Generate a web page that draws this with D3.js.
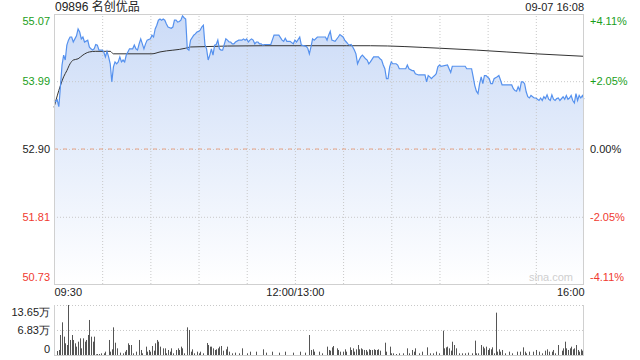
<!DOCTYPE html>
<html>
<head>
<meta charset="utf-8">
<script src="https://d3js.org/d3.v7.min.js"></script>
<style>
  body { margin: 0; background: #fff; }
  svg { font-family: "Liberation Sans", Arial, "Noto Sans CJK SC", sans-serif; }
  .grid line { stroke: #c8c8c8; stroke-dasharray: 1,2; }
  .grid path { display: none; }
  .ax path, .ax line { display: none; }
</style>
</head>
<body>
<svg id="chart" width="640" height="360"></svg>
<script>
// minutes after 09:30 (lunch break removed), 330 = 16:00
var priceMin = [0,1,2,3,4,5,6,7,8,9,10,11,12,13,14,15,16,17,18,19,21,22,23,24,25,26,27,28,30,31,32,33,34,35,36,37,38,39,40,41,42,43,44,45,46,47,49,50,51,52,53,54,55,56,57,58,60,61,62,63,64,65,66,67,68,69,70,71,73,74,75,76,77,78,79,80,81,82,83,84,85,87,88,89,90,91,92,93,94,95,96,97,98,99,100,101,102,103,104,105,107,108,109,110,111,112,113,115,117,118,119,120,121,122,123,124,125,126,127,128,129,130,131,135,137,140,142,143,144,145,147,149,150,151,153,154,157,158,159,160,161,162,164,169,170,171,172,173,175,177,178,180,181,182,183,184,185,186,187,188,189,190,191,192,193,194,195,196,197,199,202,203,204,205,206,207,208,209,210,211,213,214,215,219,220,221,223,224,225,227,230,231,232,233,234,235,236,237,238,239,240,241,245,246,247,248,256,257,260,261,262,263,264,265,266,267,268,269,271,272,273,274,276,277,278,279,283,285,286,287,288,289,290,291,292,293,294,295,296,297,298,299,300,301,302,303,304,305,306,307,308,309,310,311,312,313,314,315,317,318,319,320,321,322,323,324,325,326,327,328,329,330];
var price = [53.68,53.66,53.69,53.58,53.90,54.25,54.41,54.33,54.57,54.65,54.70,54.70,54.62,54.67,54.72,54.83,54.78,54.67,54.70,54.62,54.65,54.54,54.51,54.49,54.51,54.58,54.57,54.49,54.49,54.46,54.38,54.47,54.38,54.27,53.98,54.22,54.30,54.27,54.30,54.38,54.30,54.33,54.30,54.41,54.46,54.51,54.51,54.57,54.51,54.49,54.59,54.67,54.59,54.51,54.59,54.65,54.67,54.73,54.70,54.83,54.89,54.97,54.99,54.97,54.99,54.97,54.91,54.86,54.84,54.86,54.97,54.97,54.94,54.95,54.97,55.04,55.01,54.99,54.51,54.49,54.65,54.73,54.75,54.78,54.79,54.81,54.86,54.89,54.57,54.51,54.33,54.41,54.51,54.41,54.57,54.58,54.65,54.51,54.49,54.49,54.67,54.65,54.62,54.62,54.59,54.59,54.62,54.65,54.65,54.67,54.65,54.67,54.62,54.65,54.67,54.65,54.59,54.62,54.62,54.59,54.59,54.57,54.58,54.58,54.73,54.73,54.65,54.63,54.68,54.63,54.63,54.59,54.65,54.62,54.70,54.57,54.55,54.52,54.43,54.54,54.67,54.65,54.70,54.70,54.65,54.73,54.79,54.65,54.63,54.70,54.74,54.70,54.65,54.62,54.59,54.57,54.58,54.54,54.49,54.43,54.27,54.33,54.38,54.41,54.38,54.35,54.33,54.27,54.30,54.38,54.38,54.35,54.33,54.25,54.19,54.03,54.03,54.22,54.30,54.27,54.27,54.25,54.19,54.19,54.25,54.19,54.16,54.16,54.11,54.09,54.09,54.09,53.98,54.08,54.06,54.03,54.06,54.08,54.11,54.22,54.25,54.23,54.25,54.19,54.13,54.23,54.23,54.19,54.19,54.06,53.92,53.83,53.79,53.95,54.06,53.95,54.08,54.08,54.03,53.95,53.95,54.03,54.06,54.08,54.01,53.93,53.93,53.93,53.87,53.84,53.83,53.90,53.84,53.98,53.98,53.95,53.82,53.74,53.72,53.76,53.74,53.72,53.72,53.70,53.68,53.72,53.68,53.74,53.71,53.77,53.70,53.68,53.77,53.70,53.68,53.71,53.72,53.68,53.74,53.70,53.76,53.70,53.72,53.76,53.68,53.64,53.79,53.68,53.76,53.72,53.76,53.70];

var avgMin = [0,4,6,8,10,12,15,18,22,26,35,37,46,61,66,82,85,131,182,197,240,263,300,330];
var avgPrice = [53.57,53.92,54.06,54.16,54.27,54.33,54.35,54.41,54.46,54.47,54.47,54.43,54.43,54.43,54.46,54.52,54.54,54.56,54.56,54.56,54.52,54.49,54.43,54.39];

// volume in 万 shares
var volMin = [2,3,4,5,6,7,8,9,10,11,12,13,14,15,16,17,18,19,20,21,22,23,24,25,26,27,28,29,31,32,34,35,36,37,38,39,41,43,44,45,46,47,48,49,51,53,54,55,57,58,59,60,61,62,63,64,65,66,68,69,70,71,72,73,74,76,77,78,79,80,81,83,84,85,86,87,89,90,91,93,95,96,97,98,99,100,101,102,103,104,105,107,108,109,111,113,115,117,120,122,126,130,132,136,140,144,149,153,156,159,160,161,162,165,167,170,171,172,173,174,176,177,178,180,181,182,184,185,186,187,188,189,190,191,192,193,194,195,196,197,198,199,200,201,202,203,206,207,209,210,211,213,215,217,220,221,223,224,225,227,229,232,234,236,238,240,242,243,244,245,246,247,248,249,250,252,254,256,258,260,262,263,264,266,267,268,269,270,271,272,273,274,275,276,277,278,279,281,283,285,288,290,292,293,294,296,298,300,302,304,306,307,308,310,311,312,314,316,317,318,319,320,321,322,323,324,325,326,327,328,329];
var vol = [1.09,1.37,5.46,8.92,5.01,3.19,2.73,13.65,4.10,5.46,4.10,3.19,2.28,3.64,4.55,1.82,4.55,3.64,4.10,5.46,9.56,5.01,3.64,5.01,0.18,0.27,0.27,0.46,0.46,0.91,4.10,0.91,1.55,7.55,3.36,1.82,0.64,0.46,0.91,1.37,3.19,2.73,2.73,0.46,0.91,4.10,1.37,0.46,2.28,0.91,1.37,0.91,2.46,1.18,3.19,4.10,3.64,2.28,1.82,1.82,0.46,1.37,0.91,1.82,0.46,1.37,1.82,1.37,2.28,1.82,0.46,7.55,6.83,0.91,1.55,0.46,0.91,0.46,0.91,0.46,3.28,2.73,2.28,2.28,1.82,1.37,1.55,1.82,2.28,2.46,1.18,1.55,2.28,0.91,0.46,0.64,0.46,1.82,0.46,0.91,0.91,1.55,0.64,0.91,0.64,0.91,0.64,0.91,0.64,5.46,1.37,1.55,0.91,0.91,0.46,2.28,1.37,1.18,2.09,2.46,1.82,1.37,0.91,0.91,1.55,0.91,2.09,1.37,1.82,0.91,1.55,2.73,1.55,1.82,1.55,1.37,1.37,0.91,1.55,1.37,1.37,1.55,1.37,1.37,1.55,1.18,3.36,0.91,2.28,0.46,0.46,0.27,0.46,0.46,1.82,0.46,1.37,0.91,1.82,0.46,0.91,2.09,0.46,0.46,0.91,0.46,6.64,1.82,2.09,2.28,1.82,1.18,3.63,2.73,1.82,0.46,0.46,0.46,0.64,0.46,3.92,0.46,0.46,2.73,2.28,1.82,2.28,1.37,1.82,1.55,2.09,0.46,11.56,0.91,1.55,0.91,1.37,0.46,0.91,0.46,0.91,0.91,2.09,0.91,0.46,0.91,0.91,1.37,0.91,0.46,1.18,1.55,0.91,0.91,1.37,0.46,2.73,1.18,1.82,3.64,1.82,1.37,1.82,2.28,1.55,1.82,2.73,1.37,0.91,1.55,1.18];

var prevClose = 52.90;
var priceTicks = [55.07, 53.99, 52.90, 51.81, 50.73];
var pctLabels = ["+4.11%", "+2.05%", "0.00%", "-2.05%", "-4.11%"];
var timeTicks = [0, 150, 330];
var timeLabels = ["09:30", "12:00/13:00", "16:00"];
var gridMins = [30, 60, 90, 120, 150, 180, 210, 240, 270, 300];
var volTicks = [13.65, 6.83, 0];
var volLabels = ["13.65万", "6.83万", "0"];

var green = "#1a9e1a", red = "#f03a30", dark = "#222";
function tickColor(v) { return v > prevClose + 0.001 ? green : (v < prevClose - 0.001 ? red : dark); }

var svg = d3.select("#chart");
var L = 54, R = 584, T = 14, B = 284;

var x = d3.scaleLinear().domain([0, 330]).range([L, R]);
var y = d3.scaleLinear().domain([50.73, 55.07]).range([B, T]);
var yv = d3.scaleLinear().domain([0, 13.65]).range([355, 305]);

// gradient under the price line
var defs = svg.append("defs");
var grad = defs.append("linearGradient").attr("id", "fillGrad")
  .attr("gradientUnits", "userSpaceOnUse")
  .attr("x1", 0).attr("y1", T).attr("x2", 0).attr("y2", B);
grad.append("stop").attr("offset", 0).attr("stop-color", "#cbdbf7");
grad.append("stop").attr("offset", 1).attr("stop-color", "#ffffff");

var pts = priceMin.map(function(m, i) { return [m, price[i]]; });

svg.append("path").datum(pts)
  .attr("fill", "url(#fillGrad)")
  .attr("d", d3.area().x(function(d) { return x(d[0]); }).y0(B).y1(function(d) { return y(d[1]); }));

// grids
svg.append("g").attr("class", "grid").attr("transform", "translate(0," + B + ")")
  .call(d3.axisBottom(x).tickValues(gridMins).tickSize(-(B - T)).tickFormat(""));
svg.append("g").attr("class", "grid").attr("transform", "translate(" + L + ",0)")
  .call(d3.axisLeft(y).tickValues([53.99, prevClose, 51.81]).tickSize(-(R - L)).tickFormat(""));
svg.append("line")
  .attr("x1", L).attr("x2", R).attr("y1", y(prevClose)).attr("y2", y(prevClose))
  .attr("stroke", "#e9a486").attr("stroke-dasharray", "4,5");

// average price line
svg.append("path").datum(avgMin.map(function(m, i) { return [m, avgPrice[i]]; }))
  .attr("fill", "none").attr("stroke", "#333").attr("stroke-width", 1)
  .attr("d", d3.line().x(function(d) { return x(d[0]); }).y(function(d) { return y(d[1]); }).curve(d3.curveMonotoneX));

// price line
svg.append("path").datum(pts)
  .attr("fill", "none").attr("stroke", "#5591ee").attr("stroke-width", 1.2)
  .attr("d", d3.line().x(function(d) { return x(d[0]); }).y(function(d) { return y(d[1]); }));

// frame
svg.append("rect").attr("x", L + 0.5).attr("y", T + 0.5).attr("width", R - L - 1).attr("height", B - T)
  .attr("fill", "none").attr("stroke", "#d0d0d0");

// left price axis
var la = svg.append("g").attr("class", "ax").attr("transform", "translate(" + L + ",0)")
  .call(d3.axisLeft(y).tickValues(priceTicks).tickSize(0).tickPadding(4).tickFormat(d3.format(".2f")));
la.selectAll("text").attr("fill", function(d) { return tickColor(d); }).style("font-size", "11px")
  .attr("dy", function(d, i) { return i === 0 ? "0.95em" : (i === priceTicks.length - 1 ? "-0.3em" : "0.32em"); });

// right percent axis
var ra = svg.append("g").attr("class", "ax").attr("transform", "translate(" + R + ",0)")
  .call(d3.axisRight(y).tickValues(priceTicks).tickSize(0).tickPadding(6)
    .tickFormat(function(d, i) { return pctLabels[i]; }));
ra.selectAll("text").attr("fill", function(d) { return tickColor(d); }).style("font-size", "11px")
  .attr("dy", function(d, i) { return i === 0 ? "0.95em" : (i === priceTicks.length - 1 ? "-0.3em" : "0.32em"); });

// time axis
var ta = svg.append("g").attr("class", "ax").attr("transform", "translate(0," + B + ")")
  .call(d3.axisBottom(x).tickValues(timeTicks).tickSize(0).tickPadding(4)
    .tickFormat(function(d, i) { return timeLabels[i]; }));
ta.selectAll("text").attr("fill", dark).style("font-size", "11px")
  .attr("text-anchor", function(d, i) { return i === 0 ? "start" : (i === 2 ? "end" : "middle"); });

// watermark
svg.append("text").attr("x", R - 11).attr("y", B - 3).attr("text-anchor", "end")
  .attr("fill", "#cfcfcf").style("font-size", "11px").text("sina.com");

// title and timestamp
svg.append("text").attr("x", L + 1).attr("y", 11).attr("fill", dark).style("font-size", "12px").text("09896 名创优品");
svg.append("text").attr("x", R).attr("y", 11).attr("text-anchor", "end").attr("fill", dark).style("font-size", "11px").text("09-07 16:08");

// volume panel
svg.append("g").attr("class", "grid").attr("transform", "translate(" + L + ",0)")
  .call(d3.axisLeft(yv).tickValues([13.65, 6.83]).tickSize(-(R - L)).tickFormat(""));
svg.selectAll("rect.vol").data(volMin).enter().append("rect").attr("class", "vol")
  .attr("x", function(m) { return Math.round(x(m)); })
  .attr("width", 1)
  .attr("y", function(m, i) { return yv(vol[i]); })
  .attr("height", function(m, i) { return yv(0) - yv(vol[i]); })
  .attr("fill", "#555");
svg.append("line").attr("x1", L + 0.5).attr("x2", L + 0.5).attr("y1", 305).attr("y2", 355).attr("stroke", "#d0d0d0");
svg.append("line").attr("x1", R - 0.5).attr("x2", R - 0.5).attr("y1", 305).attr("y2", 355).attr("stroke", "#d0d0d0");
svg.append("line").attr("x1", L).attr("x2", R).attr("y1", 355.5).attr("y2", 355.5).attr("stroke", "#d0d0d0");

var va = svg.append("g").attr("class", "ax").attr("transform", "translate(" + L + ",0)")
  .call(d3.axisLeft(yv).tickValues(volTicks).tickSize(0).tickPadding(4)
    .tickFormat(function(d, i) { return volLabels[i]; }));
va.selectAll("text").attr("fill", dark).style("font-size", "11px")
  .attr("dy", function(d, i) { return i === 0 ? "0.95em" : (i === 2 ? "-0.25em" : "0.32em"); });
</script>
</body>
</html>
